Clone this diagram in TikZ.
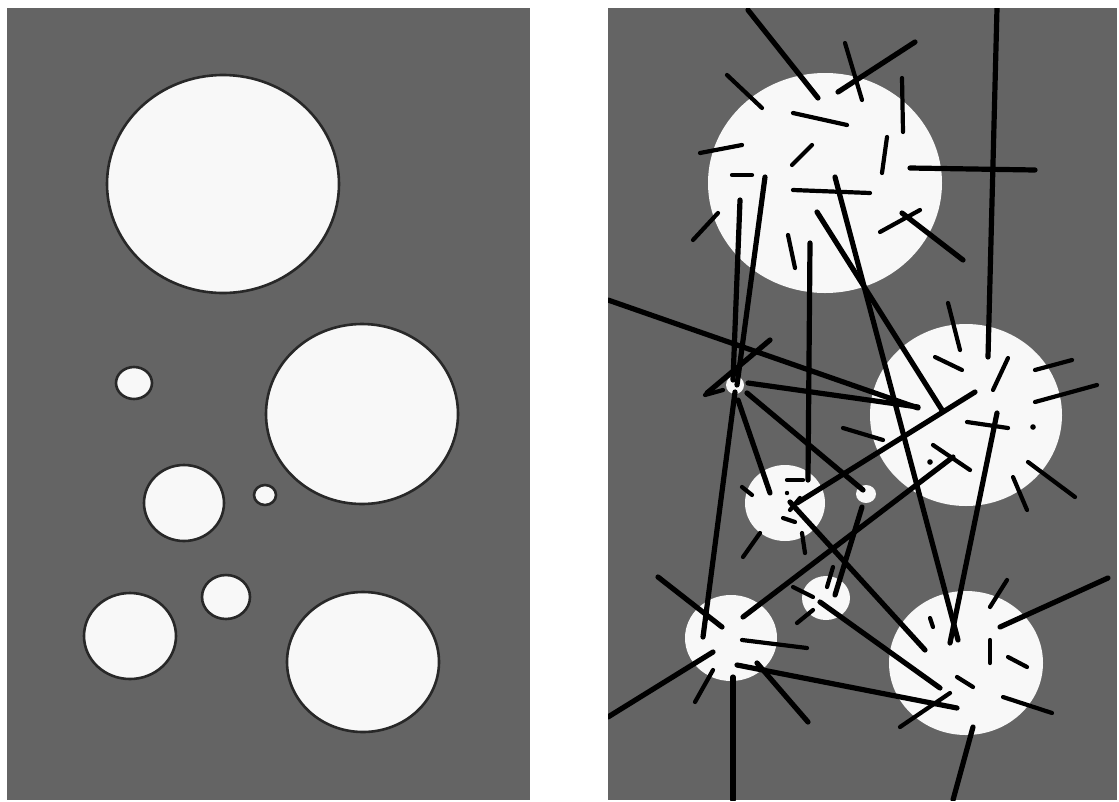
\documentclass[tikz,border=0pt]{standalone}
\definecolor{bg}{RGB}{100,100,100}
\definecolor{disc}{RGB}{248,248,248}
\definecolor{rim}{RGB}{40,40,40}
\tikzset{
  panel/.style={fill=bg, draw=none},
  leftdisc/.style={fill=disc, draw=rim, line width=2.6},
  rightdisc/.style={fill=disc, draw=none},
  fibre/.style={draw=black, line width=5.2, line cap=round},
  tick/.style={draw=black, line width=4.2, line cap=round}
}
\begin{document}
\begin{tikzpicture}[x=1pt,y=-1pt]
\useasboundingbox (0,0) rectangle (1119,801);
\fill[white] (0,0) rectangle (1119,801);
% panels
\path[panel] (7,8) rectangle (530,800);
\path[panel] (608,8) rectangle (1117,800);
% left discs
\path[leftdisc] (223,184) ellipse [x radius=116, y radius=109];
\path[leftdisc] (134,383) ellipse [x radius=18, y radius=16];
\path[leftdisc] (362,414) ellipse [x radius=96, y radius=90];
\path[leftdisc] (184,503) ellipse [x radius=40, y radius=38];
\path[leftdisc] (265,495) ellipse [x radius=11, y radius=10];
\path[leftdisc] (226,597) ellipse [x radius=24, y radius=22];
\path[leftdisc] (130,636) ellipse [x radius=46, y radius=43];
\path[leftdisc] (363,662) ellipse [x radius=76, y radius=70];
% right discs
\begin{scope}
\clip (608,8) rectangle (1117,800);
\path[rightdisc] (825,183) ellipse [x radius=117, y radius=110];
\path[rightdisc] (966,415) ellipse [x radius=96, y radius=91];
\path[rightdisc] (785,503) ellipse [x radius=40, y radius=38];
\path[rightdisc] (866,494) ellipse [x radius=10, y radius=9];
\path[rightdisc] (826,598) ellipse [x radius=24, y radius=22];
\path[rightdisc] (731,638) ellipse [x radius=46, y radius=43];
\path[rightdisc] (966,663) ellipse [x radius=77, y radius=72];
\path[rightdisc] (735,385) circle [radius=9];
% long fibres
\foreach \a/\b/\c/\d in {
  748/10/818/98, 997/8/988/357, 910/168/1035/170,
  765/177/737/385, 740/200/733/380, 735/392/703/637,
  810/243/808/480, 817/212/942/410, 835/177/958/640,
  608/300/918/408, 748/383/918/407, 770/340/707/393,
  975/392/797/503, 953/457/743/617, 997/413/950/643,
  738/400/770/493, 747/393/863/490, 790/502/925/650,
  862/507/835/595, 820/602/940/688, 737/665/957/708,
  658/577/722/627, 608/717/713/652, 733/677/733/800,
  757/663/808/722, 973/727/953/800, 1108/578/1000/627,
  902/213/963/260, 915/42/838/92}
  \draw[fibre] (\a,\b) -- (\c,\d);
% short fibres
\foreach \a/\b/\c/\d in {
  845/43/862/100, 727/75/762/108, 902/78/903/132, 793/113/847/125,
  700/153/742/145, 812/145/792/165, 887/137/882/173, 732/175/752/175,
  793/190/870/193, 718/213/693/240, 788/235/795/268, 880/232/920/210,
  948/303/960/350, 935/357/962/370, 1008/358/993/390, 1035/370/1072/360,
  1035/402/1097/385, 1028/462/1075/497, 1013/477/1027/510,
  933/445/970/470, 967/422/1008/428, 843/428/883/440,
  705/395/723/390, 742/487/752/495, 787/480/803/480, 760/533/743/557,
  802/533/805/553, 793/587/813/597, 813/610/797/623, 833/567/827/587,
  742/640/807/648, 695/702/713/670, 1007/580/990/607, 930/618/933/627,
  990/640/990/663, 1008/657/1027/667, 957/677/973/687, 1003/697/1052/713,
  950/693/900/727, 790/510/800/498, 783/518/795/522}
  \draw[tick] (\a,\b) -- (\c,\d);
\fill[black] (1033,427) circle [radius=2.8];
\fill[black] (930,462) circle [radius=2.8];
\fill[black] (787,493) circle [radius=2.2];
\end{scope}
\end{tikzpicture}
\end{document}
